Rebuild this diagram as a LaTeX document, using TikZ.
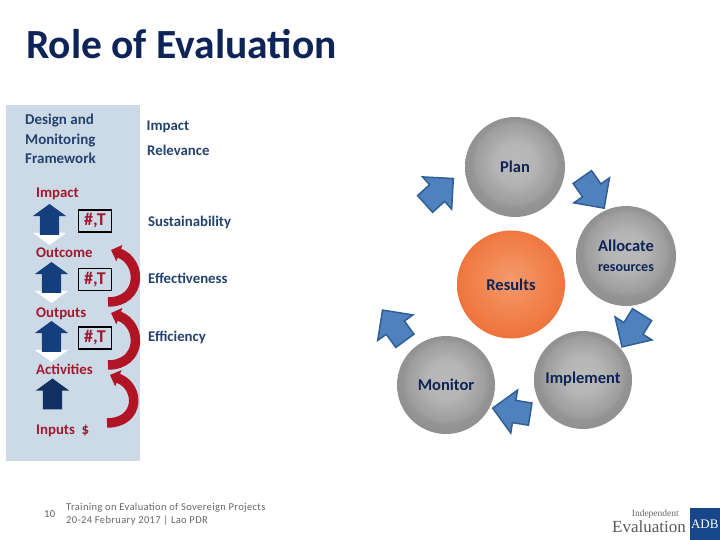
\documentclass[tikz,border=0pt]{standalone}
\usepackage{fontspec}
\setmainfont{Carlito}
\newfontfamily\logofont{Liberation Serif}
\newfontfamily\footfont[LetterSpace=3.5]{Carlito}
\usetikzlibrary{arrows.meta,shapes.arrows}
\definecolor{navy}{HTML}{0E2459}
\definecolor{slate}{HTML}{24426E}
\definecolor{wine}{HTML}{A3182C}
\definecolor{panel}{HTML}{CCDAE8}
\definecolor{cycle}{HTML}{4F81BD}
\definecolor{cycleline}{HTML}{2F5F96}
\definecolor{adb}{HTML}{17468A}
\definecolor{ora}{HTML}{F49A6C}
\definecolor{orb}{HTML}{F2844F}
\definecolor{orc}{HTML}{EE7038}
\pgfdeclareradialshading{greyball}{\pgfpoint{0bp}{3bp}}{color(0bp)=(black!27);color(10bp)=(black!29);color(16bp)=(black!35);color(20bp)=(black!38);color(22bp)=(black!42);color(28bp)=(black!44);color(50bp)=(black!44)}
\pgfdeclareradialshading{orangeball}{\pgfpoint{0bp}{3bp}}{color(0bp)=(ora);color(15bp)=(orb);color(28bp)=(orc);color(50bp)=(orc)}
\begin{document}
\begin{tikzpicture}[x=1pt,y=-1pt,font=\fontsize{14.8}{16}\selectfont\bfseries,
  ball/.style={circle,shading=greyball,minimum size=100pt,inner sep=0pt,text=navy,align=center,font=\fontsize{16.5}{18}\selectfont\bfseries},
  blk/.style={single arrow,single arrow head extend=10.5pt,minimum width=42pt,minimum height=38pt,inner xsep=0pt,inner ysep=10.5pt,fill=cycle,draw=cycleline,line width=1.5pt},
  upa/.style={single arrow,single arrow head extend=7pt,single arrow tip angle=108,minimum width=33pt,minimum height=31pt,inner xsep=0pt,inner ysep=9.5pt,fill=#1},
  lev/.style={anchor=base west,text=wine,inner sep=0pt},
  crit/.style={anchor=base west,text=slate,inner sep=0pt},
  tgt/.style={draw=black,line width=1.2pt,fill=panel,minimum width=33pt,minimum height=22pt,inner sep=0pt,text=wine,font=\fontsize{18}{20}\selectfont\bfseries},
  curl/.style={-{Triangle[length=9pt,width=17pt]},line width=9.5pt,draw=wine!85!red},
  foot/.style={anchor=west,text=black!60,inner sep=0pt,font=\footfont\fontsize{10.5}{12}\selectfont}]
\useasboundingbox (0,0) rectangle (720,540);
\node[anchor=west,inner sep=0pt,text=navy,font=\fontsize{41.5}{44}\selectfont\bfseries] (title) at (26,44) {Role of Evaluation};
\fill[panel] (6,105) rectangle (140,461);
\node[anchor=north west,inner sep=0pt,text=slate,align=left,font=\fontsize{15}{19.6}\selectfont\bfseries] (dmf) at (25,114) {Design and\\Monitoring\\Framework};
% results chain
\foreach \y/\n/\t in {198/imp/Impact,257/out/Outcome,317/opt/Outputs,374/act/Activities,434/inp/Inputs\ \ \$}
  \node[lev] (\n) at (36,\y) {\t};
\foreach \x/\y/\n in {49.5/223/a,51.5/281/b,51.5/340/c}{
  \node[upa=white,rotate=-90] (w\n) at (\x,\y+3) {};
  \node[upa=adb!90!black,rotate=90] (u\n) at (\x,\y) {};}
\node[upa=adb!70!black,rotate=90] (ud) at (52.5,397.5) {};
\foreach \y/\n in {221/ta,279.5/tb,338/tc}
  \node[tgt] (\n) at (95,\y) {\#,T};
\foreach \x/\y/\n/\t in {146.5/131/ci/Impact,147/156/cr/Relevance,148/226/cs/Sustainability,148/283/ce/Effectiveness,148/341/cf/Efficiency}
  \node[crit] (\n) at (\x,\y) {\t};
% curls
\coordinate (p1) at (108,302);
\coordinate (q1) at (111,250);
\coordinate (p2) at (108,365);
\coordinate (q2) at (111,313);
\coordinate (p3) at (107,423);
\coordinate (q3) at (110,375);
\draw[curl] (p1) .. controls (142,302) and (143,262) .. (q1);
\draw[curl] (p2) .. controls (142,365) and (143,325) .. (q2);
\draw[curl] (p3) .. controls (140,423) and (141,387) .. (q3);
% cycle
\node[ball] (plan) at (515,167) {\raisebox{1pt}{Plan}};
\node[ball] (alloc) at (626,256) {Allocate\\[2pt]{\fontsize{14}{16}\selectfont resources}};
\node[ball,shading=orangeball,minimum size=108pt] (res) at (511,284.5) {Results};
\node[ball,minimum size=98pt] (mon) at (446,385) {Monitor};
\node[ball,minimum size=98pt] (impl) at (583,380) {\raisebox{4pt}{Implement}};
\foreach \x/\y/\r/\n in {435/195/42/ba,590/188/-55/bb,635/326/238/bc,517/412/171/bd,397/330/126/be}
  \node[blk,rotate=\r] (\n) at (\x,\y) {};
% footer
\node[foot,text=black!65] (pg) at (44,514) {10};
\node[foot] (fa) at (66,508) {Training on Evaluation of Sovereign Projects};
\node[foot] (fb) at (66,521) {20-24 February 2017 | Lao PDR};
\node[fill=adb,text=white,anchor=north east,minimum width=30pt,minimum height=32pt,inner sep=0pt,font=\logofont\fontsize{13}{15}\selectfont] (adb) at (720,508) {ADB};
\node[anchor=east,inner sep=0pt,text=black!65,font=\logofont\fontsize{17}{19}\selectfont] (ev) at (686,527) {Evaluation};
\node[anchor=east,inner sep=0pt,text=black!60,font=\logofont\fontsize{9.5}{11}\selectfont] (ind) at (679,514) {Independent};
\end{tikzpicture}
\end{document}
